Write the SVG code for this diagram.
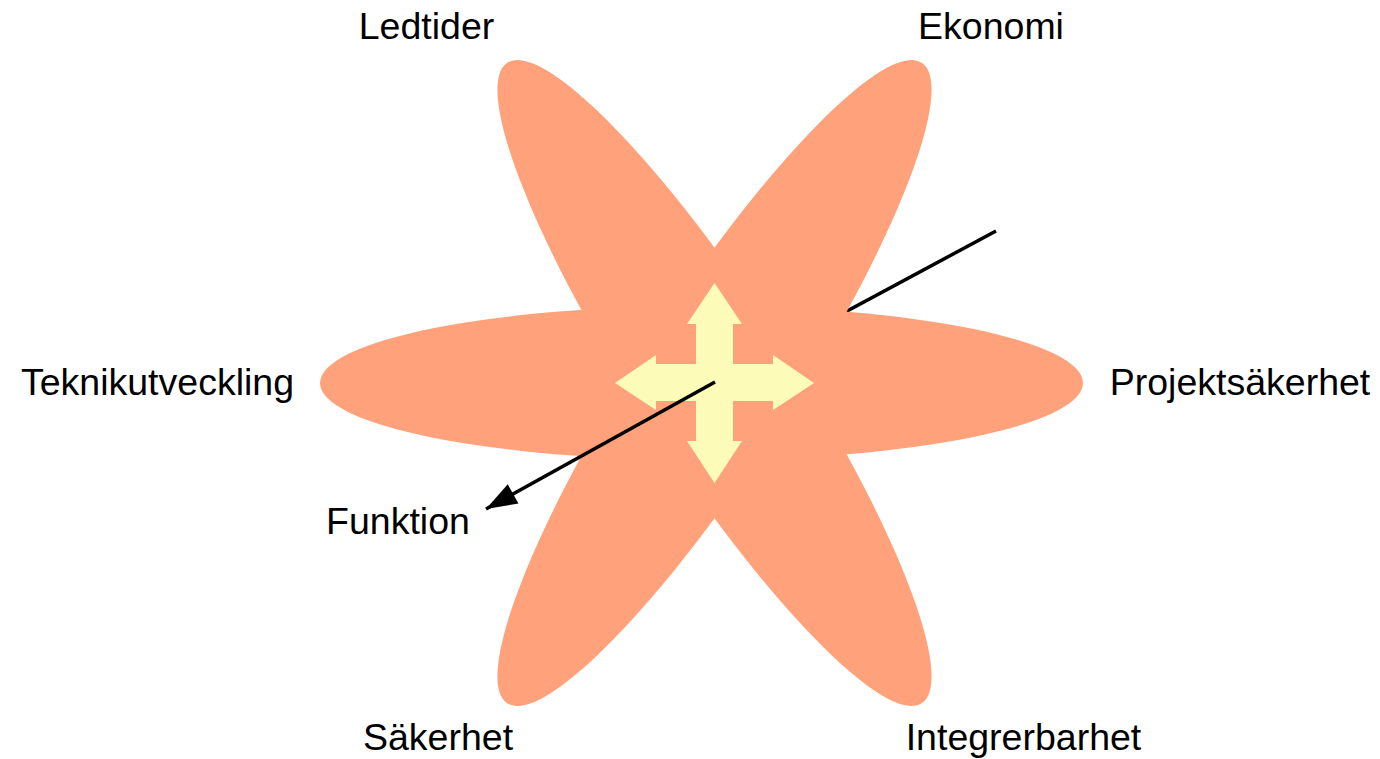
<svg xmlns="http://www.w3.org/2000/svg" width="1380" height="759" viewBox="0 0 1380 759">
<style>
.petal{fill:#FFA27B;}
.cross{fill:#FCFCB8;}
.lbl{font-family:"Liberation Sans",Arial,sans-serif;font-size:37.5px;fill:#000;text-anchor:middle;}
.ln{stroke:#000;stroke-width:3.5;fill:none;}
</style>
<defs>
<marker id="ah" markerUnits="userSpaceOnUse" markerWidth="34" markerHeight="26" viewBox="-32 -12 34 24" refX="0" refY="0" orient="auto">
<path d="M0,0 L-31,-11 L-31,11 z" fill="#000"/>
</marker>
</defs>
<g id="connectors-back">
<line class="ln" x1="996" y1="231" x2="715" y2="382"/>
</g>
<g id="flower">
<ellipse class="petal" cx="701.5" cy="383" rx="381.5" ry="77"/>
<ellipse class="petal" cx="714.5" cy="383" rx="381.5" ry="77" transform="rotate(-57.1 714.5 383)"/>
<ellipse class="petal" cx="714.5" cy="383" rx="381.5" ry="77" transform="rotate(57.1 714.5 383)"/>
</g>
<g id="cross">
<polygon class="cross" points="714.5,283 742,324 733,324 733,364 773,364 773,355 814,383 773,410 773,401 733,401 733,441 742,441 714.5,483 687,441 696,441 696,401 656,401 656,410 615,383 656,355 656,364 696,364 696,324 687,324"/>
</g>
<g id="connectors">
<line class="ln" x1="715" y1="382" x2="486" y2="509" marker-end="url(#ah)"/>
</g>
<g id="labels">
<text id="ledtider" class="lbl" x="426.5" y="39">Ledtider</text>
<text id="ekonomi" class="lbl" x="991" y="39">Ekonomi</text>
<text id="teknik" class="lbl" x="157.5" y="395">Teknikutveckling</text>
<text id="projekt" class="lbl" x="1240" y="395">Projektsäkerhet</text>
<text id="funktion" class="lbl" x="398" y="534">Funktion</text>
<text id="sakerhet" class="lbl" x="438" y="750">Säkerhet</text>
<text id="integr" class="lbl" x="1023.5" y="750">Integrerbarhet</text>
</g>
</svg>
